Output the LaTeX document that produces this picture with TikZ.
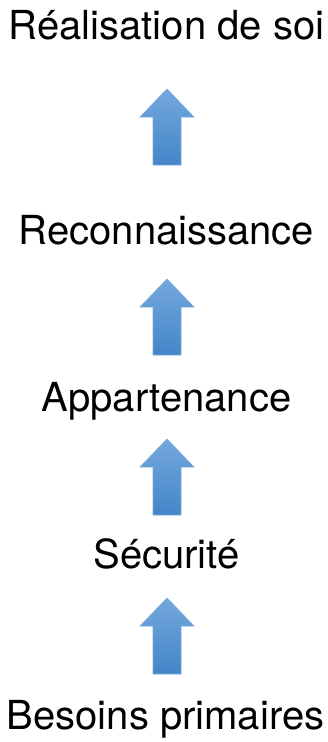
\documentclass[tikz,border=0pt]{standalone}
\usepackage{fontspec}
\setmainfont{TeX Gyre Heros}
\definecolor{arrtop}{RGB}{116,168,222}
\definecolor{arrbot}{RGB}{68,133,200}
\definecolor{arredge}{RGB}{120,170,220}
\begin{document}
\begin{tikzpicture}[x=1pt,y=-1pt,
  level/.style={anchor=base,inner sep=0pt,font=\fontsize{40}{48}\selectfont},
  arrowfill/.style={top color=arrtop,bottom color=arrbot,draw=arredge,line width=0.6pt},
  uparrow/.pic={\shade[arrowfill] (0,0) -- (27,28) -- (14,28) -- (14,76) -- (-14,76) -- (-14,28) -- (-27,28) -- cycle;}]
\useasboundingbox (0,0) rectangle (328,742);
\node[level] (l5) at (166.5,39.5) {Réalisation de soi};
\node[level] (l4) at (166.5,244.5) {Reconnaissance};
\node[level] (l3) at (166.5,411.5) {Appartenance};
\node[level] (l2) at (166.5,568.5) {Sécurité};
\node[level] (l1) at (165.5,729.5) {Besoins primaires};
\pic (a4) at (167,89) {uparrow};
\pic (a3) at (167,279) {uparrow};
\pic (a2) at (167,439) {uparrow};
\pic (a1) at (167,598) {uparrow};
\end{tikzpicture}
\end{document}
